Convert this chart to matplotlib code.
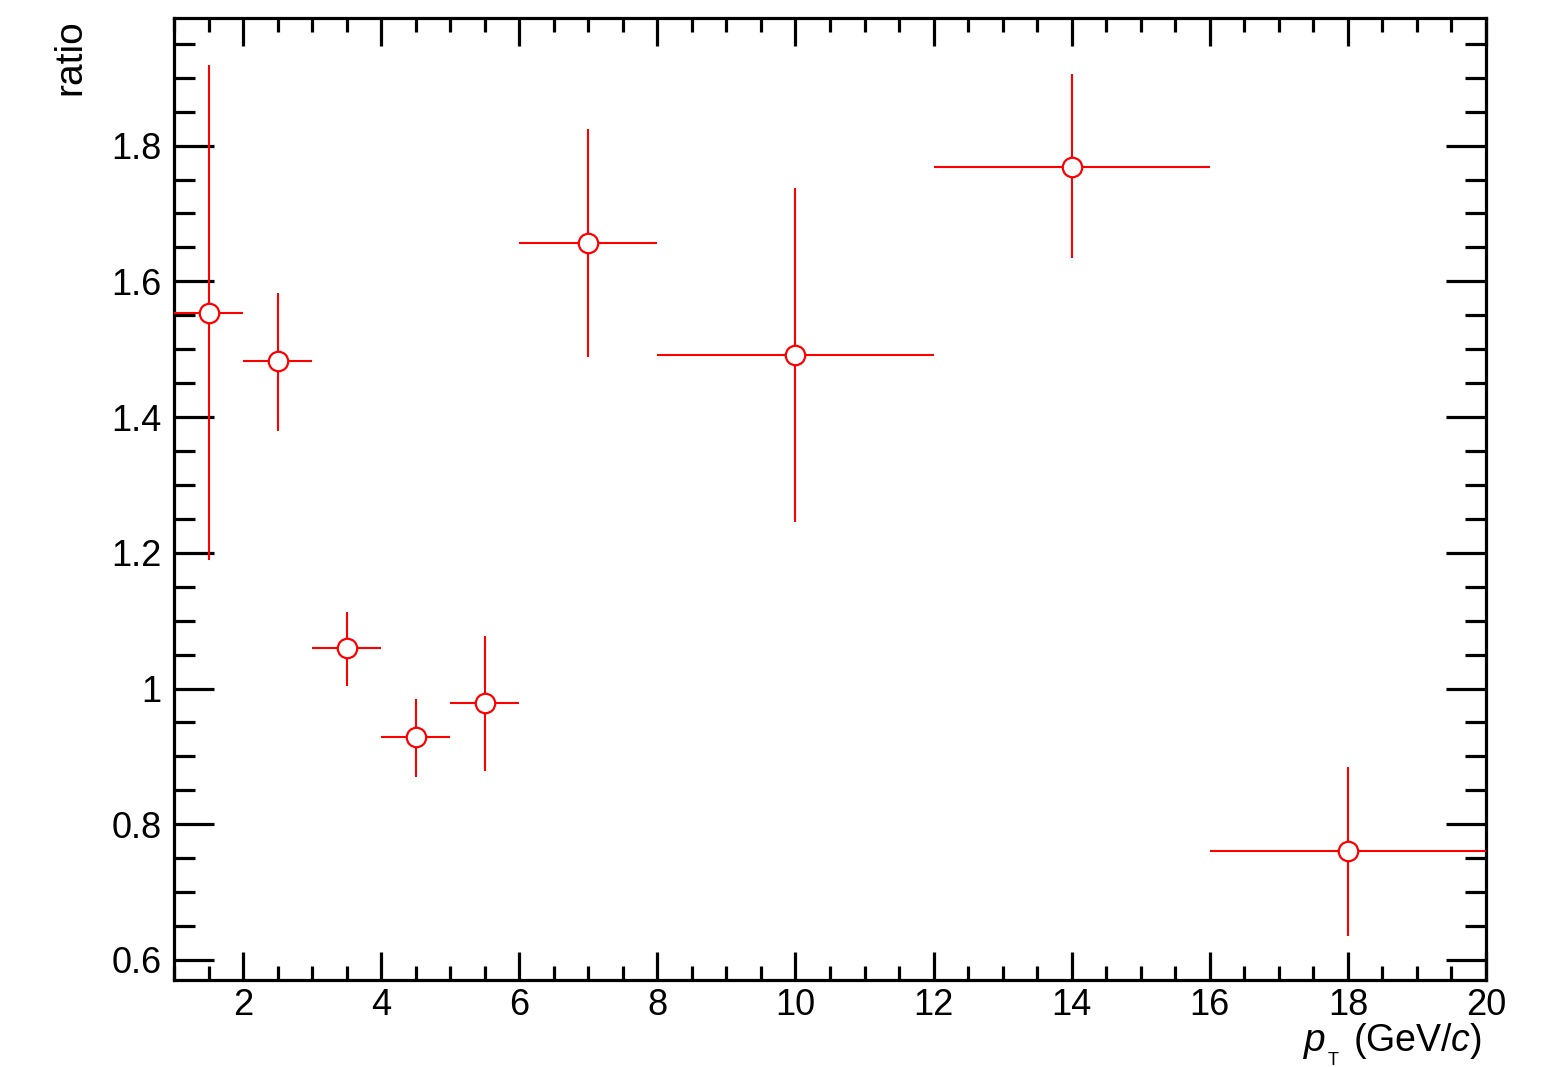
import matplotlib
matplotlib.use("Agg")
import matplotlib.pyplot as plt
from matplotlib.ticker import MultipleLocator, FuncFormatter
import numpy as np

pt = [1.5, 2.5, 3.5, 4.5, 5.5, 7.0, 10.0, 14.0, 18.0]
pt_err = [0.5, 0.5, 0.5, 0.5, 0.5, 1.0, 2.0, 2.0, 2.0]
ratio = [1.554, 1.482, 1.059, 0.928, 0.978, 1.656, 1.491, 1.769, 0.760]
err_up = [0.365, 0.101, 0.054, 0.056, 0.100, 0.168, 0.247, 0.137, 0.124]
err_dn = [0.364, 0.102, 0.055, 0.058, 0.100, 0.167, 0.246, 0.135, 0.125]

plt.rcParams['font.family'] = ['Liberation Sans', 'DejaVu Sans']
plt.rcParams['mathtext.fontset'] = 'custom'
plt.rcParams['mathtext.rm'] = 'Liberation Sans'
plt.rcParams['mathtext.it'] = 'Liberation Sans:italic'

fig = plt.figure(figsize=(15.57, 10.67), dpi=100)
ax = fig.add_axes([174/1557, 1-980/1067, (1486-174)/1557, (980-18)/1067])

ax.errorbar(pt, ratio, xerr=pt_err, yerr=[err_dn, err_up], fmt='o', color='red',
            ecolor='red', elinewidth=1.5, capsize=0, markersize=14,
            markerfacecolor='white', markeredgecolor='red', markeredgewidth=1.6, zorder=3)

ax.set_xlim(1, 20)
ax.set_ylim(0.5705, 1.988)

ax.xaxis.set_major_locator(MultipleLocator(2))
ax.xaxis.set_minor_locator(MultipleLocator(0.5))
ax.yaxis.set_major_locator(MultipleLocator(0.2))
ax.yaxis.set_minor_locator(MultipleLocator(0.05))

def fmt(v, p):
    s = f"{v:.1f}"
    if s.endswith(".0"):
        s = s[:-2]
    return s
ax.yaxis.set_major_formatter(FuncFormatter(fmt))
ax.xaxis.set_major_formatter(FuncFormatter(lambda v, p: f"{int(round(v))}"))

for s in ax.spines.values():
    s.set_linewidth(2.3)

ax.tick_params(axis='both', which='both', direction='in', top=True, right=True,
               width=2.3, labelsize=26)
ax.tick_params(axis='y', which='major', length=29, pad=9)
ax.tick_params(axis='y', which='minor', length=15)
ax.tick_params(axis='x', which='major', length=20, pad=6)
ax.tick_params(axis='x', which='minor', length=10)

# x-axis title, ROOT style: p_T (GeV/c)
fig.text(1482/1557, 1-1051/1067, "(GeV/$c$)", ha='right', va='baseline', fontsize=27)
fig.text(1304/1557, 1-1051/1067, "p", ha='left', va='baseline', fontsize=28, style='italic')
fig.text(1328/1557, 1-1065/1067, "T", ha='left', va='baseline', fontsize=13)
fig.text(70/1557, 1-19/1067, "ratio", rotation=90, ha='center', va='top', fontsize=28)

fig.savefig("out.png", dpi=100)
